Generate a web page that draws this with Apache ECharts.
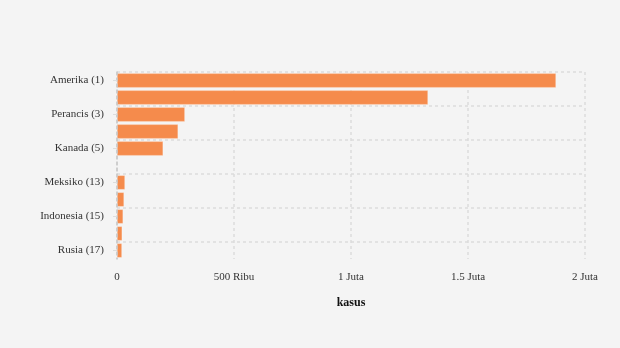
<!DOCTYPE html>
<html>
<head>
<meta charset="utf-8">
<style>
  html, body { margin: 0; padding: 0; background: #f4f4f4; }
  #chart { width: 620px; height: 348px; }
</style>
<script src="https://cdn.jsdelivr.net/npm/echarts@6/dist/echarts.min.js"></script>
</head>
<body>
<div id="chart"></div>
<script>
// Countries ranked by case count (every other label is shown)
const categories = [
  'Amerika (1)', 'Brasil (2)', 'Perancis (3)', 'Inggris (4)', 'Kanada (5)', '...',
  'Meksiko (13)', 'Jerman (14)', 'Indonesia (15)', 'Italia (16)', 'Rusia (17)'
];
// Cases per country
const cases = [
  1876000, 1329000, 290000, 261000, 197000, null,
  34000, 30000, 26000, 22000, 21000
];
// Value axis ticks
const tickValues = [0, 500000, 1000000, 1500000, 2000000];
const tickLabels = ['0', '500 Ribu', '1 Juta', '1.5 Juta', '2 Juta'];

const chart = echarts.init(document.getElementById('chart'));
const font = '"Liberation Serif", "DejaVu Serif", serif';
const gridLine = { color: '#dcdcdc', width: 1.5, type: [3, 3] };

chart.setOption({
  backgroundColor: '#f4f4f4',
  textStyle: { fontFamily: font },
  grid: [
    { left: 117, right: 35, top: 72, bottom: 89, containLabel: false },
    // guide grid: horizontal rules every two rows, without a closing rule at the bottom
    { left: 117, right: 35, top: 72, bottom: 106, containLabel: false }
  ],
  xAxis: [{
    type: 'value',
    gridIndex: 0,
    min: 0,
    max: 2000000,
    interval: 500000,
    name: 'kasus',
    nameLocation: 'middle',
    nameGap: 38,
    nameTextStyle: { fontFamily: font, fontSize: 12, fontWeight: 'bold', color: '#111' },
    axisLine: { show: false },
    axisTick: { show: false },
    axisLabel: {
      margin: 13,
      fontFamily: font,
      fontSize: 11,
      color: '#333',
      formatter: function (v) {
        const i = tickValues.indexOf(v);
        return i >= 0 ? tickLabels[i] : '';
      }
    },
    splitLine: { show: true, lineStyle: gridLine }
  }, {
    type: 'value',
    gridIndex: 1,
    min: 0,
    max: 1,
    show: false
  }],
  yAxis: [{
    type: 'category',
    gridIndex: 0,
    data: categories,
    inverse: true,
    z: 3,
    axisLine: { show: true, lineStyle: { color: '#c8c8c8', width: 1.5, type: [3, 3] } },
    axisTick: { show: true, alignWithLabel: true, interval: 1, length: 4, lineStyle: { color: '#ddd' } },
    axisLabel: {
      interval: 1,
      margin: 13,
      padding: [4, 0, 0, 0],
      fontFamily: font,
      fontSize: 11,
      color: '#333'
    },
    splitLine: { show: false }
  }, {
    type: 'value',
    gridIndex: 1,
    min: 0,
    max: 5,
    interval: 1,
    axisLine: { show: false },
    axisTick: { show: false },
    axisLabel: { show: false },
    splitLine: { show: true, lineStyle: gridLine }
  }],
  series: [{
    type: 'bar',
    xAxisIndex: 0,
    yAxisIndex: 0,
    data: cases,
    barCategoryGap: '16%',
    z: 2,
    itemStyle: { color: '#f58b4c', borderColor: 'rgba(255,255,255,0.5)', borderWidth: 0.5 },
    animation: false
  }]
});
</script>
</body>
</html>
